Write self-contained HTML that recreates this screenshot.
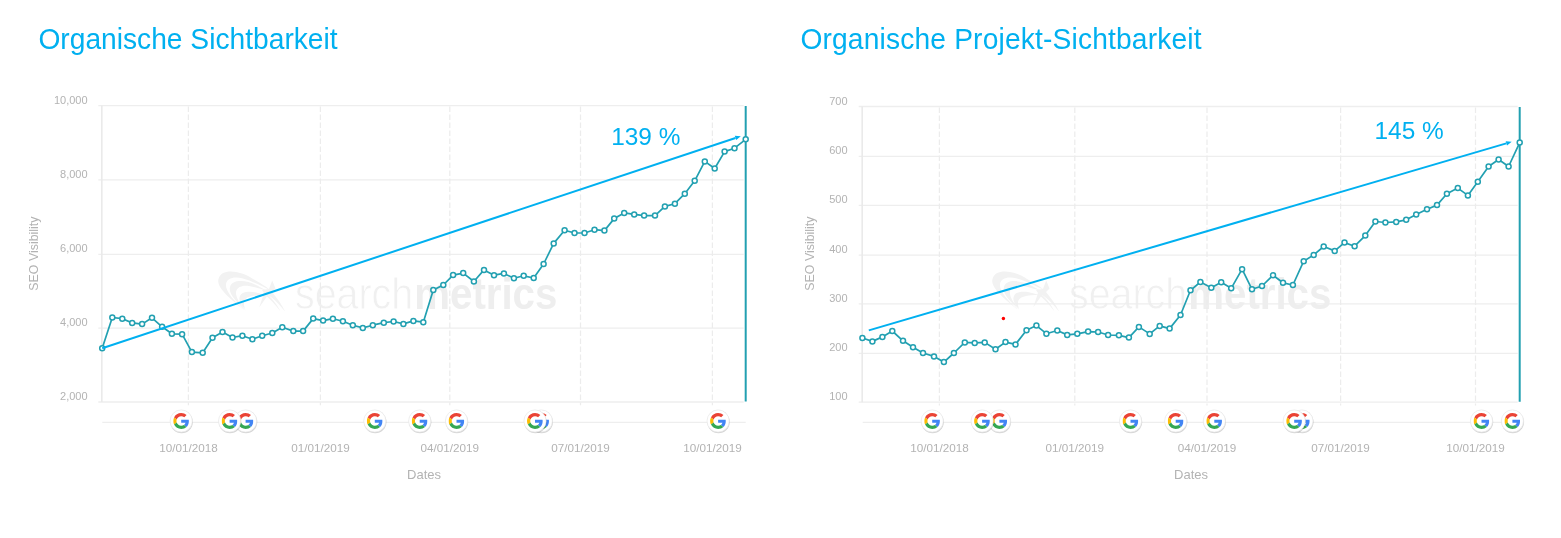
<!DOCTYPE html>
<html lang="de"><head><meta charset="utf-8"><title>Organische Sichtbarkeit</title>
<style>
html,body{margin:0;padding:0;background:#fff;}
body{width:1561px;height:538px;overflow:hidden;position:relative;font-family:"Liberation Sans", sans-serif;}
h1{position:absolute;margin:0;font-weight:normal;color:#00b0f0;font-size:28.2px;line-height:34px;white-space:nowrap;top:21.5px;transform:scaleY(1.045);transform-origin:0 27.3px;}
#t1{left:38.4px;}
#t2{left:800.4px;letter-spacing:0.16px;}
svg{position:absolute;left:0;top:0;}
svg text{font-family:"Liberation Sans", sans-serif;}
</style></head><body>
<h1 id="t1">Organische Sichtbarkeit</h1>
<h1 id="t2">Organische Projekt-Sichtbarkeit</h1>
<svg width="1561" height="538" viewBox="0 0 1561 538">
<defs><symbol id="g" viewBox="0 0 48 48"><path fill="#EA4335" d="M24 9.5c3.54 0 6.71 1.22 9.21 3.6l6.85-6.85C35.9 2.38 30.47 0 24 0 14.62 0 6.51 5.38 2.56 13.22l7.98 6.19C12.43 13.72 17.74 9.5 24 9.5z"/><path fill="#4285F4" d="M46.98 24.55c0-1.57-.15-3.09-.38-4.55H24v9.02h12.94c-.58 2.96-2.26 5.48-4.78 7.18l7.73 6c4.51-4.18 7.09-10.36 7.09-17.65z"/><path fill="#FBBC05" d="M10.53 28.59c-.48-1.45-.76-2.99-.76-4.59s.27-3.14.76-4.59l-7.98-6.19C.92 16.46 0 20.12 0 24c0 3.88.92 7.54 2.56 10.78l7.97-6.19z"/><path fill="#34A853" d="M24 48c6.48 0 11.93-2.13 15.89-5.81l-7.73-6c-2.15 1.45-4.92 2.3-8.16 2.3-6.26 0-11.57-4.22-13.47-9.91l-7.98 6.19C6.51 42.62 14.62 48 24 48z"/></symbol><filter id="sh" x="-30%" y="-30%" width="160%" height="160%"><feGaussianBlur stdDeviation="0.7"/></filter></defs>
<g id="chart-left">
<g transform="translate(0,0)" fill="#f2f2f2">
<path d="M244.6 310.4C232 300 216 288 218.5 279C221 268 240 270 253 279C262 284 268 288 270.2 290.1C262 286 252 281 243 278.5C234 276 227 278 226 284C225 291 234 301 244.6 310.4Z"/>
<path d="M246.1 310.7C238 303 228 294 230 287C232 279 246 280 256 285C262 288 266 290.5 267.2 291.1C261 289 255 287 249 286C242 285 237 287 236 292C235.5 297 240 304 246.1 310.7Z"/>
<path d="M245 309C241 305 238 300 240 296C242 291 251 291 258 293C262 294 264 294.7 265.2 295.1C260 295 256 295.5 252 296C247 297 244.5 299 244 302C243.8 305 244.3 307 245 309Z"/>
<path d="M272.2 280.6L275.5 288.5L272 292C277 298 282 305 285.3 311.7C279 304 273 298 268 295L259.2 307.6L264 293L262 290L269 289Z"/>
<path d="M265 292.5C271 297 277 304 280.5 311.5C275.5 304.5 269.5 298 263.5 294Z"/>
<text x="295" y="309" font-size="45" fill="#f0f0f0" textLength="118" lengthAdjust="spacingAndGlyphs" stroke="#fff" stroke-width="0.8" paint-order="fill stroke">search</text>
<text x="414.3" y="309" font-weight="bold" font-size="45" fill="#eeeeee" textLength="143" lengthAdjust="spacingAndGlyphs">metrics</text>
</g>
<line x1="98.3" y1="105.6" x2="743.7" y2="105.6" stroke="#eeeeee" stroke-width="1.3"/>
<line x1="98.3" y1="179.9" x2="743.7" y2="179.9" stroke="#eeeeee" stroke-width="1.3"/>
<line x1="98.3" y1="254.4" x2="743.7" y2="254.4" stroke="#eeeeee" stroke-width="1.3"/>
<line x1="98.3" y1="328.1" x2="743.7" y2="328.1" stroke="#eeeeee" stroke-width="1.3"/>
<line x1="98.3" y1="402.0" x2="743.7" y2="402.0" stroke="#eeeeee" stroke-width="1.3"/>
<line x1="101.8" y1="105.6" x2="101.8" y2="402.0" stroke="#eaeaea" stroke-width="1.6"/>
<line x1="188.4" y1="106.6" x2="188.4" y2="405.3" stroke="#ececec" stroke-width="1.2" stroke-dasharray="5.5 2.5"/>
<line x1="320.4" y1="106.6" x2="320.4" y2="405.3" stroke="#ececec" stroke-width="1.2" stroke-dasharray="5.5 2.5"/>
<line x1="449.8" y1="106.6" x2="449.8" y2="405.3" stroke="#ececec" stroke-width="1.2" stroke-dasharray="5.5 2.5"/>
<line x1="580.5" y1="106.6" x2="580.5" y2="405.3" stroke="#ececec" stroke-width="1.2" stroke-dasharray="5.5 2.5"/>
<line x1="712.4" y1="106.6" x2="712.4" y2="405.3" stroke="#ececec" stroke-width="1.2" stroke-dasharray="5.5 2.5"/>
<line x1="102.3" y1="422.3" x2="745.7" y2="422.3" stroke="#eeeeee" stroke-width="1.2"/>
<text x="87.6" y="103.6" text-anchor="end" font-size="11" fill="#b3b3b3">10,000</text>
<text x="87.6" y="177.9" text-anchor="end" font-size="11" fill="#b3b3b3">8,000</text>
<text x="87.6" y="252.4" text-anchor="end" font-size="11" fill="#b3b3b3">6,000</text>
<text x="87.6" y="326.1" text-anchor="end" font-size="11" fill="#b3b3b3">4,000</text>
<text x="87.6" y="400.0" text-anchor="end" font-size="11" fill="#b3b3b3">2,000</text>
<text x="188.4" y="451.6" text-anchor="middle" font-size="11.7" fill="#b3b3b3">10/01/2018</text>
<text x="320.4" y="451.6" text-anchor="middle" font-size="11.7" fill="#b3b3b3">01/01/2019</text>
<text x="449.8" y="451.6" text-anchor="middle" font-size="11.7" fill="#b3b3b3">04/01/2019</text>
<text x="580.5" y="451.6" text-anchor="middle" font-size="11.7" fill="#b3b3b3">07/01/2019</text>
<text x="712.4" y="451.6" text-anchor="middle" font-size="11.7" fill="#b3b3b3">10/01/2019</text>
<text x="424" y="478.7" text-anchor="middle" font-size="13" fill="#b3b3b3">Dates</text>
<text transform="translate(38.4,253.6) rotate(-90)" text-anchor="middle" font-size="12.4" fill="#b3b3b3">SEO Visibility</text>
<line x1="745.7" y1="106.1" x2="745.7" y2="401.5" stroke="#22a0b1" stroke-width="2"/>
<path d="M102.2 348.3 L112.3 317.5 L122.3 318.7 L132.2 322.9 L142.1 324.1 L152.0 317.8 L162.1 326.8 L171.9 333.8 L182.1 334.2 L191.9 352.1 L202.7 352.8 L212.5 337.8 L222.5 332.1 L232.5 337.5 L242.4 335.7 L252.4 339.3 L262.2 335.7 L272.3 333.0 L282.3 327.2 L293.3 331.1 L303.1 331.1 L313.2 318.6 L323.1 320.6 L332.9 318.7 L342.9 321.3 L352.8 325.2 L362.8 327.9 L372.8 325.2 L383.8 322.7 L393.6 321.5 L403.4 323.9 L413.4 320.9 L423.3 322.2 L433.3 290.1 L443.3 285.0 L453.1 275.1 L463.2 273.1 L473.9 281.5 L484.0 269.9 L494.0 275.2 L503.9 273.4 L513.9 278.3 L523.7 275.8 L533.7 278.0 L543.6 264.0 L553.7 243.4 L564.6 230.2 L574.5 233.0 L584.5 233.0 L594.5 229.7 L604.4 230.6 L614.2 218.6 L624.2 212.9 L634.2 214.4 L644.1 215.6 L655.0 215.6 L664.9 206.4 L674.9 203.7 L684.8 193.7 L694.7 180.8 L704.8 161.4 L714.7 168.5 L724.6 151.6 L734.5 148.2 L745.7 139.3" fill="none" stroke="#22a0b1" stroke-width="1.7" stroke-linejoin="round"/>
<circle cx="102.2" cy="348.3" r="2.5" fill="#fff" stroke="#22a0b1" stroke-width="1.5"/>
<circle cx="112.3" cy="317.5" r="2.5" fill="#fff" stroke="#22a0b1" stroke-width="1.5"/>
<circle cx="122.3" cy="318.7" r="2.5" fill="#fff" stroke="#22a0b1" stroke-width="1.5"/>
<circle cx="132.2" cy="322.9" r="2.5" fill="#fff" stroke="#22a0b1" stroke-width="1.5"/>
<circle cx="142.1" cy="324.1" r="2.5" fill="#fff" stroke="#22a0b1" stroke-width="1.5"/>
<circle cx="152.0" cy="317.8" r="2.5" fill="#fff" stroke="#22a0b1" stroke-width="1.5"/>
<circle cx="162.1" cy="326.8" r="2.5" fill="#fff" stroke="#22a0b1" stroke-width="1.5"/>
<circle cx="171.9" cy="333.8" r="2.5" fill="#fff" stroke="#22a0b1" stroke-width="1.5"/>
<circle cx="182.1" cy="334.2" r="2.5" fill="#fff" stroke="#22a0b1" stroke-width="1.5"/>
<circle cx="191.9" cy="352.1" r="2.5" fill="#fff" stroke="#22a0b1" stroke-width="1.5"/>
<circle cx="202.7" cy="352.8" r="2.5" fill="#fff" stroke="#22a0b1" stroke-width="1.5"/>
<circle cx="212.5" cy="337.8" r="2.5" fill="#fff" stroke="#22a0b1" stroke-width="1.5"/>
<circle cx="222.5" cy="332.1" r="2.5" fill="#fff" stroke="#22a0b1" stroke-width="1.5"/>
<circle cx="232.5" cy="337.5" r="2.5" fill="#fff" stroke="#22a0b1" stroke-width="1.5"/>
<circle cx="242.4" cy="335.7" r="2.5" fill="#fff" stroke="#22a0b1" stroke-width="1.5"/>
<circle cx="252.4" cy="339.3" r="2.5" fill="#fff" stroke="#22a0b1" stroke-width="1.5"/>
<circle cx="262.2" cy="335.7" r="2.5" fill="#fff" stroke="#22a0b1" stroke-width="1.5"/>
<circle cx="272.3" cy="333.0" r="2.5" fill="#fff" stroke="#22a0b1" stroke-width="1.5"/>
<circle cx="282.3" cy="327.2" r="2.5" fill="#fff" stroke="#22a0b1" stroke-width="1.5"/>
<circle cx="293.3" cy="331.1" r="2.5" fill="#fff" stroke="#22a0b1" stroke-width="1.5"/>
<circle cx="303.1" cy="331.1" r="2.5" fill="#fff" stroke="#22a0b1" stroke-width="1.5"/>
<circle cx="313.2" cy="318.6" r="2.5" fill="#fff" stroke="#22a0b1" stroke-width="1.5"/>
<circle cx="323.1" cy="320.6" r="2.5" fill="#fff" stroke="#22a0b1" stroke-width="1.5"/>
<circle cx="332.9" cy="318.7" r="2.5" fill="#fff" stroke="#22a0b1" stroke-width="1.5"/>
<circle cx="342.9" cy="321.3" r="2.5" fill="#fff" stroke="#22a0b1" stroke-width="1.5"/>
<circle cx="352.8" cy="325.2" r="2.5" fill="#fff" stroke="#22a0b1" stroke-width="1.5"/>
<circle cx="362.8" cy="327.9" r="2.5" fill="#fff" stroke="#22a0b1" stroke-width="1.5"/>
<circle cx="372.8" cy="325.2" r="2.5" fill="#fff" stroke="#22a0b1" stroke-width="1.5"/>
<circle cx="383.8" cy="322.7" r="2.5" fill="#fff" stroke="#22a0b1" stroke-width="1.5"/>
<circle cx="393.6" cy="321.5" r="2.5" fill="#fff" stroke="#22a0b1" stroke-width="1.5"/>
<circle cx="403.4" cy="323.9" r="2.5" fill="#fff" stroke="#22a0b1" stroke-width="1.5"/>
<circle cx="413.4" cy="320.9" r="2.5" fill="#fff" stroke="#22a0b1" stroke-width="1.5"/>
<circle cx="423.3" cy="322.2" r="2.5" fill="#fff" stroke="#22a0b1" stroke-width="1.5"/>
<circle cx="433.3" cy="290.1" r="2.5" fill="#fff" stroke="#22a0b1" stroke-width="1.5"/>
<circle cx="443.3" cy="285.0" r="2.5" fill="#fff" stroke="#22a0b1" stroke-width="1.5"/>
<circle cx="453.1" cy="275.1" r="2.5" fill="#fff" stroke="#22a0b1" stroke-width="1.5"/>
<circle cx="463.2" cy="273.1" r="2.5" fill="#fff" stroke="#22a0b1" stroke-width="1.5"/>
<circle cx="473.9" cy="281.5" r="2.5" fill="#fff" stroke="#22a0b1" stroke-width="1.5"/>
<circle cx="484.0" cy="269.9" r="2.5" fill="#fff" stroke="#22a0b1" stroke-width="1.5"/>
<circle cx="494.0" cy="275.2" r="2.5" fill="#fff" stroke="#22a0b1" stroke-width="1.5"/>
<circle cx="503.9" cy="273.4" r="2.5" fill="#fff" stroke="#22a0b1" stroke-width="1.5"/>
<circle cx="513.9" cy="278.3" r="2.5" fill="#fff" stroke="#22a0b1" stroke-width="1.5"/>
<circle cx="523.7" cy="275.8" r="2.5" fill="#fff" stroke="#22a0b1" stroke-width="1.5"/>
<circle cx="533.7" cy="278.0" r="2.5" fill="#fff" stroke="#22a0b1" stroke-width="1.5"/>
<circle cx="543.6" cy="264.0" r="2.5" fill="#fff" stroke="#22a0b1" stroke-width="1.5"/>
<circle cx="553.7" cy="243.4" r="2.5" fill="#fff" stroke="#22a0b1" stroke-width="1.5"/>
<circle cx="564.6" cy="230.2" r="2.5" fill="#fff" stroke="#22a0b1" stroke-width="1.5"/>
<circle cx="574.5" cy="233.0" r="2.5" fill="#fff" stroke="#22a0b1" stroke-width="1.5"/>
<circle cx="584.5" cy="233.0" r="2.5" fill="#fff" stroke="#22a0b1" stroke-width="1.5"/>
<circle cx="594.5" cy="229.7" r="2.5" fill="#fff" stroke="#22a0b1" stroke-width="1.5"/>
<circle cx="604.4" cy="230.6" r="2.5" fill="#fff" stroke="#22a0b1" stroke-width="1.5"/>
<circle cx="614.2" cy="218.6" r="2.5" fill="#fff" stroke="#22a0b1" stroke-width="1.5"/>
<circle cx="624.2" cy="212.9" r="2.5" fill="#fff" stroke="#22a0b1" stroke-width="1.5"/>
<circle cx="634.2" cy="214.4" r="2.5" fill="#fff" stroke="#22a0b1" stroke-width="1.5"/>
<circle cx="644.1" cy="215.6" r="2.5" fill="#fff" stroke="#22a0b1" stroke-width="1.5"/>
<circle cx="655.0" cy="215.6" r="2.5" fill="#fff" stroke="#22a0b1" stroke-width="1.5"/>
<circle cx="664.9" cy="206.4" r="2.5" fill="#fff" stroke="#22a0b1" stroke-width="1.5"/>
<circle cx="674.9" cy="203.7" r="2.5" fill="#fff" stroke="#22a0b1" stroke-width="1.5"/>
<circle cx="684.8" cy="193.7" r="2.5" fill="#fff" stroke="#22a0b1" stroke-width="1.5"/>
<circle cx="694.7" cy="180.8" r="2.5" fill="#fff" stroke="#22a0b1" stroke-width="1.5"/>
<circle cx="704.8" cy="161.4" r="2.5" fill="#fff" stroke="#22a0b1" stroke-width="1.5"/>
<circle cx="714.7" cy="168.5" r="2.5" fill="#fff" stroke="#22a0b1" stroke-width="1.5"/>
<circle cx="724.6" cy="151.6" r="2.5" fill="#fff" stroke="#22a0b1" stroke-width="1.5"/>
<circle cx="734.5" cy="148.2" r="2.5" fill="#fff" stroke="#22a0b1" stroke-width="1.5"/>
<circle cx="745.7" cy="139.3" r="2.5" fill="#fff" stroke="#22a0b1" stroke-width="1.5"/>
<line x1="102.2" y1="348.3" x2="735.5" y2="138.0" stroke="#00b0f0" stroke-width="2"/>
<path d="M740.8 136.2 L736.2 140.1 L734.8 135.8z" fill="#00b0f0"/>
<text x="611.2" y="145.2" font-size="24.4" fill="#00b0f0">139 %</text>
<circle cx="181.6" cy="421.9" r="11.3" fill="#000" opacity="0.16" filter="url(#sh)"/>
<circle cx="181.2" cy="421" r="11.1" fill="#fff" stroke="#e8e8e8" stroke-width="0.7"/>
<use href="#g" x="173.2" y="413" width="16" height="16"/>
<circle cx="246.0" cy="421.9" r="11.3" fill="#000" opacity="0.16" filter="url(#sh)"/>
<circle cx="245.6" cy="421" r="11.1" fill="#fff" stroke="#e8e8e8" stroke-width="0.7"/>
<use href="#g" x="237.6" y="413" width="16" height="16"/>
<circle cx="230.0" cy="421.9" r="11.3" fill="#000" opacity="0.16" filter="url(#sh)"/>
<circle cx="229.6" cy="421" r="11.1" fill="#fff" stroke="#e8e8e8" stroke-width="0.7"/>
<use href="#g" x="221.6" y="413" width="16" height="16"/>
<circle cx="375.2" cy="421.9" r="11.3" fill="#000" opacity="0.16" filter="url(#sh)"/>
<circle cx="374.8" cy="421" r="11.1" fill="#fff" stroke="#e8e8e8" stroke-width="0.7"/>
<use href="#g" x="366.8" y="413" width="16" height="16"/>
<circle cx="420.09999999999997" cy="421.9" r="11.3" fill="#000" opacity="0.16" filter="url(#sh)"/>
<circle cx="419.7" cy="421" r="11.1" fill="#fff" stroke="#e8e8e8" stroke-width="0.7"/>
<use href="#g" x="411.7" y="413" width="16" height="16"/>
<circle cx="456.9" cy="421.9" r="11.3" fill="#000" opacity="0.16" filter="url(#sh)"/>
<circle cx="456.5" cy="421" r="11.1" fill="#fff" stroke="#e8e8e8" stroke-width="0.7"/>
<use href="#g" x="448.5" y="413" width="16" height="16"/>
<circle cx="541.6999999999999" cy="421.9" r="11.3" fill="#000" opacity="0.16" filter="url(#sh)"/>
<circle cx="541.3" cy="421" r="11.1" fill="#fff" stroke="#e8e8e8" stroke-width="0.7"/>
<use href="#g" x="533.3" y="413" width="16" height="16"/>
<circle cx="535.4" cy="421.9" r="11.3" fill="#000" opacity="0.16" filter="url(#sh)"/>
<circle cx="535.0" cy="421" r="11.1" fill="#fff" stroke="#e8e8e8" stroke-width="0.7"/>
<use href="#g" x="527.0" y="413" width="16" height="16"/>
<circle cx="718.5" cy="421.9" r="11.3" fill="#000" opacity="0.16" filter="url(#sh)"/>
<circle cx="718.1" cy="421" r="11.1" fill="#fff" stroke="#e8e8e8" stroke-width="0.7"/>
<use href="#g" x="710.1" y="413" width="16" height="16"/>
</g>
<g id="chart-right">
<g transform="translate(774,0)" fill="#f2f2f2">
<path d="M244.6 310.4C232 300 216 288 218.5 279C221 268 240 270 253 279C262 284 268 288 270.2 290.1C262 286 252 281 243 278.5C234 276 227 278 226 284C225 291 234 301 244.6 310.4Z"/>
<path d="M246.1 310.7C238 303 228 294 230 287C232 279 246 280 256 285C262 288 266 290.5 267.2 291.1C261 289 255 287 249 286C242 285 237 287 236 292C235.5 297 240 304 246.1 310.7Z"/>
<path d="M245 309C241 305 238 300 240 296C242 291 251 291 258 293C262 294 264 294.7 265.2 295.1C260 295 256 295.5 252 296C247 297 244.5 299 244 302C243.8 305 244.3 307 245 309Z"/>
<path d="M272.2 280.6L275.5 288.5L272 292C277 298 282 305 285.3 311.7C279 304 273 298 268 295L259.2 307.6L264 293L262 290L269 289Z"/>
<path d="M265 292.5C271 297 277 304 280.5 311.5C275.5 304.5 269.5 298 263.5 294Z"/>
<text x="295" y="309" font-size="45" fill="#f0f0f0" textLength="118" lengthAdjust="spacingAndGlyphs" stroke="#fff" stroke-width="0.8" paint-order="fill stroke">search</text>
<text x="414.3" y="309" font-weight="bold" font-size="45" fill="#eeeeee" textLength="143" lengthAdjust="spacingAndGlyphs">metrics</text>
</g>
<line x1="858.7" y1="106.5" x2="1517.7" y2="106.5" stroke="#eeeeee" stroke-width="1.3"/>
<line x1="858.7" y1="156.4" x2="1517.7" y2="156.4" stroke="#eeeeee" stroke-width="1.3"/>
<line x1="858.7" y1="205.4" x2="1517.7" y2="205.4" stroke="#eeeeee" stroke-width="1.3"/>
<line x1="858.7" y1="255.1" x2="1517.7" y2="255.1" stroke="#eeeeee" stroke-width="1.3"/>
<line x1="858.7" y1="303.8" x2="1517.7" y2="303.8" stroke="#eeeeee" stroke-width="1.3"/>
<line x1="858.7" y1="353.3" x2="1517.7" y2="353.3" stroke="#eeeeee" stroke-width="1.3"/>
<line x1="858.7" y1="402.2" x2="1517.7" y2="402.2" stroke="#eeeeee" stroke-width="1.3"/>
<line x1="862.2" y1="106.5" x2="862.2" y2="402.2" stroke="#eaeaea" stroke-width="1.6"/>
<line x1="939.4" y1="107.5" x2="939.4" y2="405.5" stroke="#ececec" stroke-width="1.2" stroke-dasharray="5.5 2.5"/>
<line x1="1074.8" y1="107.5" x2="1074.8" y2="405.5" stroke="#ececec" stroke-width="1.2" stroke-dasharray="5.5 2.5"/>
<line x1="1207.0" y1="107.5" x2="1207.0" y2="405.5" stroke="#ececec" stroke-width="1.2" stroke-dasharray="5.5 2.5"/>
<line x1="1340.6" y1="107.5" x2="1340.6" y2="405.5" stroke="#ececec" stroke-width="1.2" stroke-dasharray="5.5 2.5"/>
<line x1="1475.5" y1="107.5" x2="1475.5" y2="405.5" stroke="#ececec" stroke-width="1.2" stroke-dasharray="5.5 2.5"/>
<line x1="862.7" y1="422.3" x2="1519.7" y2="422.3" stroke="#eeeeee" stroke-width="1.2"/>
<text x="847.6" y="104.5" text-anchor="end" font-size="11" fill="#b3b3b3">700</text>
<text x="847.6" y="154.4" text-anchor="end" font-size="11" fill="#b3b3b3">600</text>
<text x="847.6" y="203.4" text-anchor="end" font-size="11" fill="#b3b3b3">500</text>
<text x="847.6" y="253.1" text-anchor="end" font-size="11" fill="#b3b3b3">400</text>
<text x="847.6" y="301.8" text-anchor="end" font-size="11" fill="#b3b3b3">300</text>
<text x="847.6" y="351.3" text-anchor="end" font-size="11" fill="#b3b3b3">200</text>
<text x="847.6" y="400.2" text-anchor="end" font-size="11" fill="#b3b3b3">100</text>
<text x="939.4" y="451.6" text-anchor="middle" font-size="11.7" fill="#b3b3b3">10/01/2018</text>
<text x="1074.8" y="451.6" text-anchor="middle" font-size="11.7" fill="#b3b3b3">01/01/2019</text>
<text x="1207.0" y="451.6" text-anchor="middle" font-size="11.7" fill="#b3b3b3">04/01/2019</text>
<text x="1340.6" y="451.6" text-anchor="middle" font-size="11.7" fill="#b3b3b3">07/01/2019</text>
<text x="1475.5" y="451.6" text-anchor="middle" font-size="11.7" fill="#b3b3b3">10/01/2019</text>
<text x="1191" y="478.7" text-anchor="middle" font-size="13" fill="#b3b3b3">Dates</text>
<text transform="translate(814.4,253.6) rotate(-90)" text-anchor="middle" font-size="12.4" fill="#b3b3b3">SEO Visibility</text>
<line x1="1519.7" y1="107.0" x2="1519.7" y2="401.7" stroke="#22a0b1" stroke-width="2"/>
<path d="M862.4 338.0 L872.4 341.4 L882.4 336.9 L892.3 331.0 L903.0 340.8 L913.0 347.2 L923.0 353.0 L934.0 356.4 L943.9 362.1 L953.9 353.0 L964.8 342.4 L974.7 342.9 L984.7 342.4 L995.5 349.3 L1005.5 342.1 L1015.5 344.4 L1026.5 330.2 L1036.4 325.6 L1046.4 333.7 L1057.3 330.5 L1067.2 334.9 L1077.3 333.8 L1088.1 331.6 L1098.1 332.0 L1108.1 335.0 L1118.9 335.3 L1128.9 337.6 L1138.9 326.9 L1149.7 333.9 L1159.7 325.9 L1169.6 328.6 L1180.5 315.0 L1190.5 290.3 L1200.4 282.0 L1211.3 287.8 L1221.2 282.3 L1231.2 288.3 L1242.1 269.2 L1252.0 289.3 L1262.0 286.0 L1273.0 275.3 L1283.0 282.8 L1292.9 285.0 L1303.7 261.2 L1313.7 254.9 L1323.7 246.5 L1334.7 250.9 L1344.5 242.6 L1354.6 246.2 L1365.3 235.6 L1375.4 221.5 L1385.4 222.5 L1396.2 221.9 L1406.2 219.8 L1416.2 214.5 L1427.0 209.2 L1437.0 205.1 L1446.9 193.8 L1457.8 188.1 L1467.9 195.4 L1477.8 181.8 L1488.6 166.5 L1498.6 159.5 L1508.6 166.5 L1519.7 142.6" fill="none" stroke="#22a0b1" stroke-width="1.7" stroke-linejoin="round"/>
<circle cx="862.4" cy="338.0" r="2.5" fill="#fff" stroke="#22a0b1" stroke-width="1.5"/>
<circle cx="872.4" cy="341.4" r="2.5" fill="#fff" stroke="#22a0b1" stroke-width="1.5"/>
<circle cx="882.4" cy="336.9" r="2.5" fill="#fff" stroke="#22a0b1" stroke-width="1.5"/>
<circle cx="892.3" cy="331.0" r="2.5" fill="#fff" stroke="#22a0b1" stroke-width="1.5"/>
<circle cx="903.0" cy="340.8" r="2.5" fill="#fff" stroke="#22a0b1" stroke-width="1.5"/>
<circle cx="913.0" cy="347.2" r="2.5" fill="#fff" stroke="#22a0b1" stroke-width="1.5"/>
<circle cx="923.0" cy="353.0" r="2.5" fill="#fff" stroke="#22a0b1" stroke-width="1.5"/>
<circle cx="934.0" cy="356.4" r="2.5" fill="#fff" stroke="#22a0b1" stroke-width="1.5"/>
<circle cx="943.9" cy="362.1" r="2.5" fill="#fff" stroke="#22a0b1" stroke-width="1.5"/>
<circle cx="953.9" cy="353.0" r="2.5" fill="#fff" stroke="#22a0b1" stroke-width="1.5"/>
<circle cx="964.8" cy="342.4" r="2.5" fill="#fff" stroke="#22a0b1" stroke-width="1.5"/>
<circle cx="974.7" cy="342.9" r="2.5" fill="#fff" stroke="#22a0b1" stroke-width="1.5"/>
<circle cx="984.7" cy="342.4" r="2.5" fill="#fff" stroke="#22a0b1" stroke-width="1.5"/>
<circle cx="995.5" cy="349.3" r="2.5" fill="#fff" stroke="#22a0b1" stroke-width="1.5"/>
<circle cx="1005.5" cy="342.1" r="2.5" fill="#fff" stroke="#22a0b1" stroke-width="1.5"/>
<circle cx="1015.5" cy="344.4" r="2.5" fill="#fff" stroke="#22a0b1" stroke-width="1.5"/>
<circle cx="1026.5" cy="330.2" r="2.5" fill="#fff" stroke="#22a0b1" stroke-width="1.5"/>
<circle cx="1036.4" cy="325.6" r="2.5" fill="#fff" stroke="#22a0b1" stroke-width="1.5"/>
<circle cx="1046.4" cy="333.7" r="2.5" fill="#fff" stroke="#22a0b1" stroke-width="1.5"/>
<circle cx="1057.3" cy="330.5" r="2.5" fill="#fff" stroke="#22a0b1" stroke-width="1.5"/>
<circle cx="1067.2" cy="334.9" r="2.5" fill="#fff" stroke="#22a0b1" stroke-width="1.5"/>
<circle cx="1077.3" cy="333.8" r="2.5" fill="#fff" stroke="#22a0b1" stroke-width="1.5"/>
<circle cx="1088.1" cy="331.6" r="2.5" fill="#fff" stroke="#22a0b1" stroke-width="1.5"/>
<circle cx="1098.1" cy="332.0" r="2.5" fill="#fff" stroke="#22a0b1" stroke-width="1.5"/>
<circle cx="1108.1" cy="335.0" r="2.5" fill="#fff" stroke="#22a0b1" stroke-width="1.5"/>
<circle cx="1118.9" cy="335.3" r="2.5" fill="#fff" stroke="#22a0b1" stroke-width="1.5"/>
<circle cx="1128.9" cy="337.6" r="2.5" fill="#fff" stroke="#22a0b1" stroke-width="1.5"/>
<circle cx="1138.9" cy="326.9" r="2.5" fill="#fff" stroke="#22a0b1" stroke-width="1.5"/>
<circle cx="1149.7" cy="333.9" r="2.5" fill="#fff" stroke="#22a0b1" stroke-width="1.5"/>
<circle cx="1159.7" cy="325.9" r="2.5" fill="#fff" stroke="#22a0b1" stroke-width="1.5"/>
<circle cx="1169.6" cy="328.6" r="2.5" fill="#fff" stroke="#22a0b1" stroke-width="1.5"/>
<circle cx="1180.5" cy="315.0" r="2.5" fill="#fff" stroke="#22a0b1" stroke-width="1.5"/>
<circle cx="1190.5" cy="290.3" r="2.5" fill="#fff" stroke="#22a0b1" stroke-width="1.5"/>
<circle cx="1200.4" cy="282.0" r="2.5" fill="#fff" stroke="#22a0b1" stroke-width="1.5"/>
<circle cx="1211.3" cy="287.8" r="2.5" fill="#fff" stroke="#22a0b1" stroke-width="1.5"/>
<circle cx="1221.2" cy="282.3" r="2.5" fill="#fff" stroke="#22a0b1" stroke-width="1.5"/>
<circle cx="1231.2" cy="288.3" r="2.5" fill="#fff" stroke="#22a0b1" stroke-width="1.5"/>
<circle cx="1242.1" cy="269.2" r="2.5" fill="#fff" stroke="#22a0b1" stroke-width="1.5"/>
<circle cx="1252.0" cy="289.3" r="2.5" fill="#fff" stroke="#22a0b1" stroke-width="1.5"/>
<circle cx="1262.0" cy="286.0" r="2.5" fill="#fff" stroke="#22a0b1" stroke-width="1.5"/>
<circle cx="1273.0" cy="275.3" r="2.5" fill="#fff" stroke="#22a0b1" stroke-width="1.5"/>
<circle cx="1283.0" cy="282.8" r="2.5" fill="#fff" stroke="#22a0b1" stroke-width="1.5"/>
<circle cx="1292.9" cy="285.0" r="2.5" fill="#fff" stroke="#22a0b1" stroke-width="1.5"/>
<circle cx="1303.7" cy="261.2" r="2.5" fill="#fff" stroke="#22a0b1" stroke-width="1.5"/>
<circle cx="1313.7" cy="254.9" r="2.5" fill="#fff" stroke="#22a0b1" stroke-width="1.5"/>
<circle cx="1323.7" cy="246.5" r="2.5" fill="#fff" stroke="#22a0b1" stroke-width="1.5"/>
<circle cx="1334.7" cy="250.9" r="2.5" fill="#fff" stroke="#22a0b1" stroke-width="1.5"/>
<circle cx="1344.5" cy="242.6" r="2.5" fill="#fff" stroke="#22a0b1" stroke-width="1.5"/>
<circle cx="1354.6" cy="246.2" r="2.5" fill="#fff" stroke="#22a0b1" stroke-width="1.5"/>
<circle cx="1365.3" cy="235.6" r="2.5" fill="#fff" stroke="#22a0b1" stroke-width="1.5"/>
<circle cx="1375.4" cy="221.5" r="2.5" fill="#fff" stroke="#22a0b1" stroke-width="1.5"/>
<circle cx="1385.4" cy="222.5" r="2.5" fill="#fff" stroke="#22a0b1" stroke-width="1.5"/>
<circle cx="1396.2" cy="221.9" r="2.5" fill="#fff" stroke="#22a0b1" stroke-width="1.5"/>
<circle cx="1406.2" cy="219.8" r="2.5" fill="#fff" stroke="#22a0b1" stroke-width="1.5"/>
<circle cx="1416.2" cy="214.5" r="2.5" fill="#fff" stroke="#22a0b1" stroke-width="1.5"/>
<circle cx="1427.0" cy="209.2" r="2.5" fill="#fff" stroke="#22a0b1" stroke-width="1.5"/>
<circle cx="1437.0" cy="205.1" r="2.5" fill="#fff" stroke="#22a0b1" stroke-width="1.5"/>
<circle cx="1446.9" cy="193.8" r="2.5" fill="#fff" stroke="#22a0b1" stroke-width="1.5"/>
<circle cx="1457.8" cy="188.1" r="2.5" fill="#fff" stroke="#22a0b1" stroke-width="1.5"/>
<circle cx="1467.9" cy="195.4" r="2.5" fill="#fff" stroke="#22a0b1" stroke-width="1.5"/>
<circle cx="1477.8" cy="181.8" r="2.5" fill="#fff" stroke="#22a0b1" stroke-width="1.5"/>
<circle cx="1488.6" cy="166.5" r="2.5" fill="#fff" stroke="#22a0b1" stroke-width="1.5"/>
<circle cx="1498.6" cy="159.5" r="2.5" fill="#fff" stroke="#22a0b1" stroke-width="1.5"/>
<circle cx="1508.6" cy="166.5" r="2.5" fill="#fff" stroke="#22a0b1" stroke-width="1.5"/>
<circle cx="1519.7" cy="142.6" r="2.5" fill="#fff" stroke="#22a0b1" stroke-width="1.5"/>
<line x1="868.8" y1="330.4" x2="1506.3" y2="143.4" stroke="#00b0f0" stroke-width="2"/>
<path d="M1511.7 141.8 L1507.0 145.6 L1505.7 141.2z" fill="#00b0f0"/>
<text x="1374.5" y="138.7" font-size="24.4" fill="#00b0f0">145 %</text>
<circle cx="932.6" cy="421.9" r="11.3" fill="#000" opacity="0.16" filter="url(#sh)"/>
<circle cx="932.2" cy="421" r="11.1" fill="#fff" stroke="#e8e8e8" stroke-width="0.7"/>
<use href="#g" x="924.2" y="413" width="16" height="16"/>
<circle cx="999.8" cy="421.9" r="11.3" fill="#000" opacity="0.16" filter="url(#sh)"/>
<circle cx="999.4" cy="421" r="11.1" fill="#fff" stroke="#e8e8e8" stroke-width="0.7"/>
<use href="#g" x="991.4" y="413" width="16" height="16"/>
<circle cx="982.5" cy="421.9" r="11.3" fill="#000" opacity="0.16" filter="url(#sh)"/>
<circle cx="982.1" cy="421" r="11.1" fill="#fff" stroke="#e8e8e8" stroke-width="0.7"/>
<use href="#g" x="974.1" y="413" width="16" height="16"/>
<circle cx="1130.9" cy="421.9" r="11.3" fill="#000" opacity="0.16" filter="url(#sh)"/>
<circle cx="1130.5" cy="421" r="11.1" fill="#fff" stroke="#e8e8e8" stroke-width="0.7"/>
<use href="#g" x="1122.5" y="413" width="16" height="16"/>
<circle cx="1176.1000000000001" cy="421.9" r="11.3" fill="#000" opacity="0.16" filter="url(#sh)"/>
<circle cx="1175.7" cy="421" r="11.1" fill="#fff" stroke="#e8e8e8" stroke-width="0.7"/>
<use href="#g" x="1167.7" y="413" width="16" height="16"/>
<circle cx="1214.7" cy="421.9" r="11.3" fill="#000" opacity="0.16" filter="url(#sh)"/>
<circle cx="1214.3" cy="421" r="11.1" fill="#fff" stroke="#e8e8e8" stroke-width="0.7"/>
<use href="#g" x="1206.3" y="413" width="16" height="16"/>
<circle cx="1302.3000000000002" cy="421.9" r="11.3" fill="#000" opacity="0.16" filter="url(#sh)"/>
<circle cx="1301.9" cy="421" r="11.1" fill="#fff" stroke="#e8e8e8" stroke-width="0.7"/>
<use href="#g" x="1293.9" y="413" width="16" height="16"/>
<circle cx="1294.6000000000001" cy="421.9" r="11.3" fill="#000" opacity="0.16" filter="url(#sh)"/>
<circle cx="1294.2" cy="421" r="11.1" fill="#fff" stroke="#e8e8e8" stroke-width="0.7"/>
<use href="#g" x="1286.2" y="413" width="16" height="16"/>
<circle cx="1481.9" cy="421.9" r="11.3" fill="#000" opacity="0.16" filter="url(#sh)"/>
<circle cx="1481.5" cy="421" r="11.1" fill="#fff" stroke="#e8e8e8" stroke-width="0.7"/>
<use href="#g" x="1473.5" y="413" width="16" height="16"/>
<circle cx="1512.8000000000002" cy="421.9" r="11.3" fill="#000" opacity="0.16" filter="url(#sh)"/>
<circle cx="1512.4" cy="421" r="11.1" fill="#fff" stroke="#e8e8e8" stroke-width="0.7"/>
<use href="#g" x="1504.4" y="413" width="16" height="16"/>
<circle cx="1003.4" cy="318.5" r="1.7" fill="#f00"/>
</g>
</svg>
</body></html>
